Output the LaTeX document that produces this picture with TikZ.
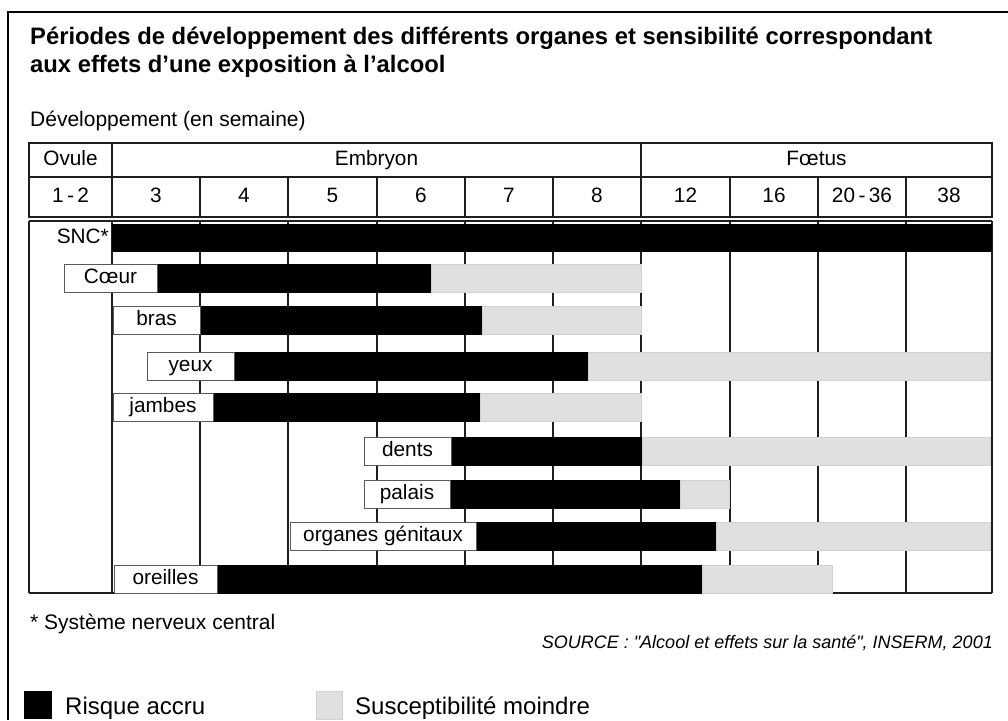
\documentclass[tikz,border=0pt]{standalone}
\usepackage{fontspec}
\setmainfont{Liberation Sans}
\definecolor{lowgray}{RGB}{224,224,224}
\definecolor{linegray}{RGB}{30,30,30}
\tikzset{
	gridline/.style={line width=2.6pt, draw=linegray},
	thinline/.style={line width=2pt, draw=linegray},
	riskbar/.style={fill=black},
	lowbar/.style={fill=lowgray, draw=black!18, line width=0.6pt},
	labbox/.style={draw=black!65, line width=1pt, fill=white},
	tabtext/.style={font=\fontsize{20.8}{24}\selectfont, inner sep=0pt, text height=15pt, text depth=4pt},
}
\begin{document}
\begin{tikzpicture}[x=1pt, y=-1pt]
\useasboundingbox (0,0) rectangle (1008,720);

% frame and headings
\draw[line width=1.4pt] (1008,12) -- (8,12) -- (8,720);
\node[anchor=base west, inner sep=0pt, font=\fontsize{23.8}{28}\selectfont\bfseries] (title1) at (30,44) {Périodes de développement des différents organes et sensibilité correspondant};
\node[anchor=base west, inner sep=0pt, font=\fontsize{23.8}{28}\selectfont\bfseries] (title2) at (30,72) {aux effets d’une exposition à l’alcool};
\node[anchor=base west, inner sep=0pt, font=\fontsize{21}{24}\selectfont] (unit) at (30,126) {Développement (en semaine)};

% header
\draw[gridline] (29,143) rectangle (992,217);
\draw[gridline] (29,177) -- (992,177);
\foreach \x in {112,641} {
	\draw[gridline] (\x,143) -- (\x,177);
}
\foreach \x in {112,200,288,377,465,553,641,730,818,906} {
	\draw[gridline] (\x,177) -- (\x,217);
}
\node[tabtext] (ovule) at (70.5,160) {Ovule};
\node[tabtext] (embryon) at (376.5,160) {Embryon};
\node[tabtext] (foetus) at (816.5,160) {Fœtus};
\foreach \cx/\lab/\nm in {70.5/1\,-\,2/w12, 156/3/w3, 244/4/w4, 332.5/5/w5, 421/6/w6, 509/7/w7, 597/8/w8, 685.5/12/w12b, 774/16/w16, 862/20\,-\,36/w2036, 949/38/w38} {
	\node[tabtext] (\nm) at (\cx,197) {\lab};
}

% body grid
\draw[thinline] (29,221) -- (992,221);
\foreach \x in {29,112,200,288,377,465,553,641,730,818,906,992} {
	\draw[gridline] (\x,221) -- (\x,593);
}
\draw[gridline] (29,593) -- (992,593);

% bars
\fill[riskbar] (112,224) rectangle (992,252);
\node[tabtext, anchor=east] (snc) at (109,238) {SNC*};

\foreach \nm/\lab/\yt/\xa/\xb/\xc/\xd in {
	coeur/Cœur/264/64/157/431/641,
	bras/bras/306/113/200/482/641,
	yeux/yeux/352/147/234/588/990,
	jambes/jambes/393/113/213/480/641,
	dents/dents/437/364/451/642/990,
	palais/palais/480/364/450/680/729,
	organes/organes génitaux/522/290/476/716/990,
	oreilles/oreilles/565/114/217/702/832} {
	\fill[riskbar] (\xb,\yt) rectangle (\xc,\yt+28.5);
	\filldraw[lowbar] (\xc,\yt) rectangle (\xd,\yt+28.5);
	\filldraw[labbox] (\xa,\yt) rectangle (\xb,\yt+28.5) node[pos=.5, tabtext] (\nm) {\lab};
}

% notes and legend
\node[anchor=base west, inner sep=0pt, font=\fontsize{21}{24}\selectfont] (note) at (30,629) {* Système nerveux central};
\node[anchor=base east, inner sep=0pt, font=\fontsize{18}{21}\selectfont\itshape] (source) at (993,648) {SOURCE : \textquotedbl Alcool et effets sur la santé\textquotedbl, INSERM, 2001};

\fill[riskbar] (24,691) rectangle (52,719);
\node[anchor=base west, inner sep=0pt, font=\fontsize{24}{28}\selectfont] (risk) at (65,714) {Risque accru};
\filldraw[lowbar] (316,691) rectangle (342,719);
\node[anchor=base west, inner sep=0pt, font=\fontsize{24}{28}\selectfont] (low) at (355,714) {Susceptibilité moindre};
\end{tikzpicture}
\end{document}
